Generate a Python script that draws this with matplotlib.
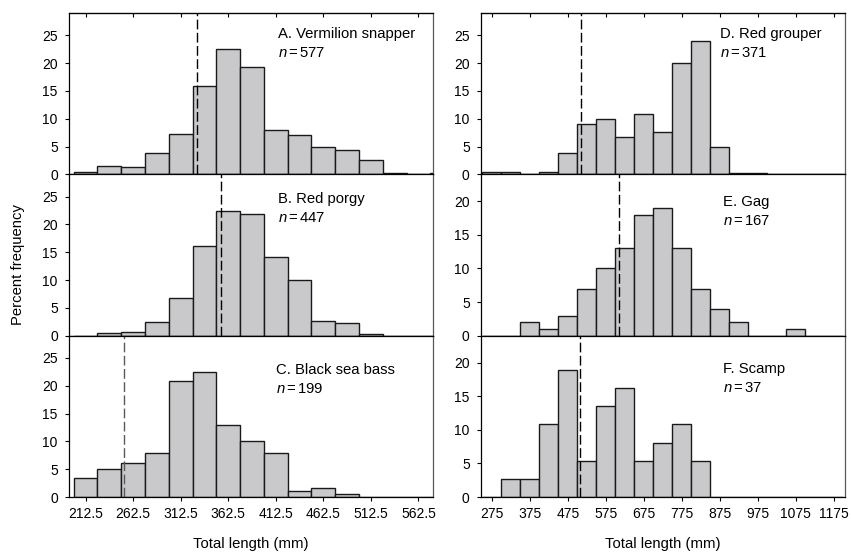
import matplotlib
matplotlib.use('Agg')
import matplotlib.pyplot as plt
import numpy as np

plt.rcParams['font.family'] = ['Liberation Sans', 'DejaVu Sans']
plt.rcParams['mathtext.fontset'] = 'custom'
plt.rcParams['mathtext.it'] = 'Liberation Sans:italic'
plt.rcParams['mathtext.rm'] = 'Liberation Sans'

# left column: 25 mm bins starting at 200 mm
left_centers = [212.5 + 25 * i for i in range(16)]
snapper = [0.4, 1.45, 1.4, 3.8, 7.3, 15.9, 22.6, 19.3, 8.0, 7.05, 5.0, 4.45, 2.5, 0.25, 0.0, 0.2]
porgy = [0, 0.5, 0.7, 2.5, 6.8, 16.1, 22.4, 21.9, 14.1, 10.0, 2.7, 2.3, 0.25, 0, 0, 0]
seabass = [3.4, 5.1, 6.2, 7.9, 20.8, 22.5, 12.9, 10.1, 7.85, 1.1, 1.7, 0.6, 0, 0, 0, 0]

# right column: 50 mm bins starting at 250 mm
right_centers = [275 + 50 * i for i in range(19)]
grouper = [0.35, 0.35, 0, 0.4, 3.9, 9.0, 9.9, 6.75, 10.9, 7.65, 20.0, 24.0, 4.9, 0.2, 0.2, 0, 0, 0, 0]
gag = [0, 0, 2, 1, 3, 7, 10, 13, 18, 19, 13, 7, 4, 2, 0, 0, 1, 0, 0]
scamp = [0, 2.7, 2.7, 10.8, 18.9, 5.4, 13.5, 16.2, 5.4, 8.1, 10.8, 5.4, 0, 0, 0, 0, 0, 0, 0]

left_ticks = [212.5, 262.5, 312.5, 362.5, 412.5, 462.5, 512.5, 562.5]
right_ticks = [275, 375, 475, 575, 675, 775, 875, 975, 1075, 1175]

panels = [
    # (row, col, values, title, n, dashed line, ylim, label pos)
    (0, 0, snapper, 'A. Vermilion snapper', '577', 330, 29, (0.574, 0.915)),
    (1, 0, porgy, 'B. Red porgy', '447', 355, 29, (0.574, 0.893)),
    (2, 0, seabass, 'C. Black sea bass', '199', 253, 29, (0.569, 0.83)),
    (0, 1, grouper, 'D. Red grouper', '371', 509, 29, (0.657, 0.912)),
    (1, 1, gag, 'E. Gag', '167', 610, 24, (0.665, 0.872)),
    (2, 1, scamp, 'F. Scamp', '37', 508, 24, (0.664, 0.838)),
]

fs = 10.7
tfs = 10

fig = plt.figure(figsize=(8.51, 5.52), dpi=100)
gs_l = fig.add_gridspec(3, 1, left=0.081, right=0.509, top=0.9764, bottom=0.0996, hspace=0)
gs_r = fig.add_gridspec(3, 1, left=0.565, right=0.993, top=0.9764, bottom=0.0996, hspace=0)

for row, col, vals, title, n, dash, ytop, pos in panels:
    ax = fig.add_subplot((gs_l if col == 0 else gs_r)[row, 0])
    if col == 0:
        centers, w, xlim, ticks = left_centers, 25, (195, 578), left_ticks
        labels = ['%.1f' % t for t in ticks]
    else:
        centers, w, xlim, ticks = right_centers, 50, (246, 1205), right_ticks
        labels = ['%d' % t for t in ticks]
    ax.bar(centers, vals, width=w, color='#c9c9cb', edgecolor='#1a1a1a', linewidth=1.0)
    ax.axvline(dash, color='0.35' if title.startswith('C') else 'black',
               linestyle=(0, (7, 2.5)), linewidth=1.0)
    ax.set_xlim(*xlim)
    ax.set_ylim(0, ytop)
    ax.set_yticks(range(0, ytop - 3, 5))
    ax.set_xticks(ticks)
    ax.tick_params(axis='x', direction='out', length=3, width=0.8, labelsize=tfs, pad=4)
    ax.tick_params(axis='y', direction='out', length=3, width=0.8, labelsize=tfs, pad=5)
    if row == 2:
        ax.set_xticklabels(labels)
    else:
        ax.set_xticklabels([])
    if row == 0:
        sec = ax.secondary_xaxis('top')
        sec.set_xticks(ticks)
        sec.set_xticklabels([])
        sec.tick_params(direction='in', length=3, width=0.8)
    for s in ax.spines.values():
        s.set_linewidth(0.9)
    ax.spines['right'].set_color('0.35')
    ax.text(pos[0], pos[1], title, transform=ax.transAxes, fontsize=fs, va='top', ha='left')
    ax.text(pos[0], pos[1] - 0.118, r'$n\,$=$\,$' + n, transform=ax.transAxes,
            fontsize=fs, va='top', ha='left')

fig.text(0.021, 0.52, 'Percent frequency', rotation=90, fontsize=fs, ha='center', va='center')
fig.text(0.295, 0.0145, 'Total length (mm)', fontsize=fs, ha='center', va='center')
fig.text(0.779, 0.0145, 'Total length (mm)', fontsize=fs, ha='center', va='center')

plt.savefig('out.png', dpi=100)
